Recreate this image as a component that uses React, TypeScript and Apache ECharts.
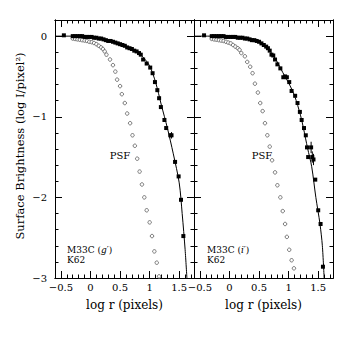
import React, { useEffect, useRef } from 'react';
import * as echarts from 'echarts';

// ---- axis ranges & tick labels ----
const X_MIN = -0.6;
const X_MAX = 1.75;
const Y_MIN = -3;
const Y_MAX = 0.2;
const xMajorTicks = [-0.5, 0, 0.5, 1, 1.5];
const yMajorTicks = [-3, -2, -1, 0];

// ---- M33C g' panel ----
const galaxyG: number[][] = [
  [-0.45, 0.01],
  [-0.3, 0.0], [-0.26, 0.0], [-0.22, 0.0], [-0.18, 0.0], [-0.14, 0.0], [-0.1, -0.01], [-0.06, -0.01],
  [-0.02, -0.01], [0.02, -0.01], [0.06, -0.02], [0.1, -0.02], [0.14, -0.03], [0.18, -0.03],
  [0.22, -0.04], [0.26, -0.05], [0.3, -0.06], [0.34, -0.06], [0.38, -0.07], [0.42, -0.08],
  [0.46, -0.09], [0.5, -0.1], [0.54, -0.11], [0.58, -0.12], [0.62, -0.14], [0.66, -0.15],
  [0.7, -0.16], [0.74, -0.18], [0.78, -0.19], [0.82, -0.21], [0.85, -0.23],
  [0.89, -0.29], [0.95, -0.34], [1.01, -0.39], [1.05, -0.46], [1.09, -0.57], [1.13, -0.67],
  [1.16, -0.77], [1.19, -0.88], [1.25, -1.04], [1.28, -1.14], [1.35, -1.23], [1.37, -1.23],
  [1.43, -1.56], [1.49, -1.74], [1.53, -2.03], [1.57, -2.48],
];
const psfG: number[][] = [
  [-0.3, -0.03], [-0.26, -0.035], [-0.22, -0.04], [-0.18, -0.045], [-0.14, -0.05], [-0.1, -0.055],
  [-0.06, -0.06], [-0.02, -0.07], [0.02, -0.075], [0.06, -0.085], [0.1, -0.1], [0.14, -0.12],
  [0.18, -0.14], [0.21, -0.16],
  [0.24, -0.19], [0.27, -0.23], [0.33, -0.29], [0.38, -0.36], [0.42, -0.44], [0.45, -0.54],
  [0.5, -0.62], [0.53, -0.72], [0.58, -0.83], [0.62, -0.96], [0.67, -1.08], [0.71, -1.23],
  [0.75, -1.36], [0.79, -1.52], [0.83, -1.68], [0.87, -1.84], [0.91, -2.0], [0.95, -2.16],
  [1.0, -2.31], [1.04, -2.48], [1.08, -2.67], [1.12, -2.81], [1.16, -2.98],
];
const modelG: number[][] = [
  [-0.6, 0.0], [-0.2, 0.0], [0.0, -0.01], [0.2, -0.03], [0.4, -0.07], [0.6, -0.12], [0.8, -0.2],
  [0.9, -0.27], [1.0, -0.37], [1.1, -0.57], [1.2, -0.86], [1.3, -1.14], [1.4, -1.46],
  [1.5, -1.82], [1.55, -2.2], [1.6, -2.65], [1.63, -3.0],
];
const errG: number[][] = [[1.37, -1.27, -1.19]];

// ---- M33C i' panel ----
const galaxyI: number[][] = [
  [-0.43, 0.01],
  [-0.3, 0.0], [-0.26, 0.0], [-0.22, 0.0], [-0.18, 0.0], [-0.14, 0.0], [-0.1, 0.0], [-0.06, -0.01],
  [-0.02, -0.01], [0.02, -0.01], [0.06, -0.01], [0.1, -0.01], [0.14, -0.02], [0.18, -0.02],
  [0.22, -0.02], [0.26, -0.03], [0.3, -0.03], [0.34, -0.04], [0.38, -0.05], [0.42, -0.05],
  [0.46, -0.06], [0.5, -0.07], [0.54, -0.09], [0.58, -0.11], [0.62, -0.13], [0.65, -0.15],
  [0.68, -0.18], [0.71, -0.23], [0.74, -0.24], [0.77, -0.29], [0.81, -0.35], [0.86, -0.4],
  [0.91, -0.51], [0.94, -0.5], [0.97, -0.51], [1.01, -0.57], [1.05, -0.68], [1.11, -0.74],
  [1.15, -0.83], [1.19, -0.94], [1.22, -1.04], [1.26, -1.14], [1.29, -1.23], [1.31, -1.38],
  [1.38, -1.38], [1.33, -1.5], [1.4, -1.5], [1.42, -1.53], [1.45, -1.78], [1.5, -2.16],
  [1.54, -2.33], [1.58, -2.86],
];
const psfI: number[][] = [
  [-0.3, -0.035], [-0.26, -0.04], [-0.22, -0.045], [-0.18, -0.05], [-0.14, -0.055], [-0.1, -0.06],
  [-0.06, -0.07], [-0.02, -0.08], [0.02, -0.09], [0.06, -0.11], [0.1, -0.13], [0.14, -0.15],
  [0.17, -0.17],
  [0.2, -0.21], [0.26, -0.25], [0.3, -0.32], [0.35, -0.38], [0.39, -0.46], [0.43, -0.59],
  [0.48, -0.7], [0.52, -0.83], [0.56, -0.93], [0.6, -1.08], [0.64, -1.23], [0.68, -1.37],
  [0.72, -1.54], [0.77, -1.69], [0.81, -1.85], [0.86, -2.0], [0.9, -2.17], [0.94, -2.33],
  [0.97, -2.49], [1.01, -2.65], [1.05, -2.78], [1.09, -2.88],
];
const modelI: number[][] = [
  [-0.6, 0.0], [0.0, 0.0], [0.2, -0.01], [0.4, -0.04], [0.5, -0.07], [0.6, -0.12], [0.7, -0.2],
  [0.8, -0.31], [0.9, -0.45], [1.0, -0.58], [1.1, -0.74], [1.2, -0.98], [1.25, -1.14],
  [1.32, -1.39], [1.39, -1.62], [1.46, -2.0], [1.53, -2.33], [1.57, -2.6], [1.6, -3.0],
];
const errI: number[][] = [[1.38, -1.45, -1.31], [1.4, -1.57, -1.43], [1.42, -1.6, -1.46]];

const FONT = 'DejaVu Serif';
const GRID_TOP = 20;
const GRID_H = 258;
const GRID_W = 139;
const LEFT0 = 55;
const LEFT1 = 194;

const fmtNum = (v: number) => (v < 0 ? '\u2212' + String(Math.abs(v)) : String(v));

function matchTick(v: number, ticks: number[]) {
  const t = ticks.find((k) => Math.abs(k - v) < 1e-6);
  return t === undefined ? '' : fmtNum(t);
}

function xAxis(grid: number, position: string, major: boolean, labels: boolean) {
  return {
    type: 'value',
    gridIndex: grid,
    position,
    min: X_MIN,
    max: X_MAX,
    ...(major ? { splitNumber: 5 } : { interval: 0.1 }),
    axisLine: { show: true, onZero: false, lineStyle: { color: '#000', width: 1 } },
    axisTick: { show: true, inside: true, length: major ? 7 : 3.5, lineStyle: { color: '#000', width: 1 } },
    axisLabel: {
      show: labels,
      margin: 4,
      fontFamily: FONT,
      fontSize: 10,
      color: '#000',
      formatter: (v: number) => matchTick(v, xMajorTicks),
    },
    splitLine: { show: false },
  };
}

function yAxis(grid: number, position: string, major: boolean, labels: boolean) {
  return {
    type: 'value',
    gridIndex: grid,
    position,
    min: Y_MIN,
    max: Y_MAX,
    interval: major ? 1 : 0.2,
    axisLine: { show: true, onZero: false, lineStyle: { color: '#000', width: 1 } },
    axisTick: { show: true, inside: true, length: major ? 7 : 3.5, lineStyle: { color: '#000', width: 1 } },
    axisLabel: {
      show: labels,
      margin: 8,
      fontFamily: FONT,
      fontSize: 10,
      color: '#000',
      formatter: (v: number) => matchTick(v, yMajorTicks),
    },
    splitLine: { show: false },
  };
}

function panelSeries(ax: number, model: number[][], galaxy: number[][], psf: number[][], err: number[][]) {
  return [
    {
      type: 'line',
      xAxisIndex: ax,
      yAxisIndex: ax,
      data: model,
      symbol: 'none',
      smooth: 0.3,
      lineStyle: { color: '#000', width: 1 },
      z: 2,
    },
    {
      type: 'custom',
      xAxisIndex: ax,
      yAxisIndex: ax,
      data: err,
      encode: { x: 0, y: [1, 2] },
      renderItem: (_p: any, api: any) => {
        const a = api.coord([api.value(0), api.value(1)]);
        const b = api.coord([api.value(0), api.value(2)]);
        return {
          type: 'line',
          shape: { x1: a[0], y1: a[1], x2: b[0], y2: b[1] },
          style: { stroke: '#000', lineWidth: 1 },
        };
      },
      z: 3,
    },
    {
      type: 'scatter',
      xAxisIndex: ax,
      yAxisIndex: ax,
      data: psf,
      symbol: 'circle',
      symbolSize: 3.5,
      itemStyle: { color: '#fff', borderColor: '#555', borderWidth: 0.8, opacity: 1 },
      z: 4,
    },
    {
      type: 'scatter',
      xAxisIndex: ax,
      yAxisIndex: ax,
      data: galaxy,
      symbol: 'rect',
      symbolSize: 4,
      itemStyle: { color: '#000', opacity: 1 },
      z: 5,
    },
  ];
}

function txt(x: number, y: number, text: string, size: number, align = 'center', extra: any = {}) {
  return {
    type: 'text',
    x,
    y,
    ...extra,
    style: {
      text,
      fontFamily: FONT,
      fontSize: size,
      fill: '#000',
      align,
      verticalAlign: 'middle',
      rich: { it: { fontFamily: FONT, fontSize: size, fontStyle: 'italic', fill: '#000' } },
    },
  };
}

export default function App() {
  const ref = useRef<HTMLDivElement>(null);
  useEffect(() => {
    if (!ref.current) return;
    const chart = echarts.init(ref.current, undefined, { renderer: 'svg' });
    chart.setOption({
      animation: false,
      backgroundColor: '#fff',
      grid: [
        { left: LEFT0, top: GRID_TOP, width: GRID_W, height: GRID_H },
        { left: LEFT1, top: GRID_TOP, width: GRID_W, height: GRID_H },
      ],
      xAxis: [
        xAxis(0, 'bottom', true, true),
        xAxis(1, 'bottom', true, true),
        xAxis(0, 'bottom', false, false),
        xAxis(0, 'top', true, false),
        xAxis(0, 'top', false, false),
        xAxis(1, 'bottom', false, false),
        xAxis(1, 'top', true, false),
        xAxis(1, 'top', false, false),
      ],
      yAxis: [
        yAxis(0, 'left', true, true),
        yAxis(1, 'left', true, false),
        yAxis(0, 'left', false, false),
        yAxis(0, 'right', true, false),
        yAxis(0, 'right', false, false),
        yAxis(1, 'left', false, false),
        yAxis(1, 'right', true, false),
        yAxis(1, 'right', false, false),
      ],
      series: [
        ...panelSeries(0, modelG, galaxyG, psfG, errG),
        ...panelSeries(1, modelI, galaxyI, psfI, errI),
      ],
      graphic: [
        txt(LEFT0 + GRID_W / 2, 305, 'log r (pixels)', 12),
        txt(LEFT1 + GRID_W / 2, 305, 'log r (pixels)', 12),
        txt(20, 146, 'Surface Brightness (log I/pixel\u00B2)', 11.5, 'center', {
          rotation: Math.PI / 2,
        }),
        txt(120, 155, 'PSF', 10),
        txt(262, 155, 'PSF', 10),
        txt(67, 250, 'M33C ({it|g}\u2032)', 9, 'left'),
        txt(67, 260, 'K62', 9, 'left'),
        txt(207, 250, 'M33C ({it|i}\u2032)', 9, 'left'),
        txt(207, 260, 'K62', 9, 'left'),
      ],
    });
    return () => chart.dispose();
  }, []);
  return (
    <div
      ref={ref}
      style={{ position: 'fixed', left: 0, top: 0, width: 354, height: 354, background: '#fff' }}
    />
  );
}
